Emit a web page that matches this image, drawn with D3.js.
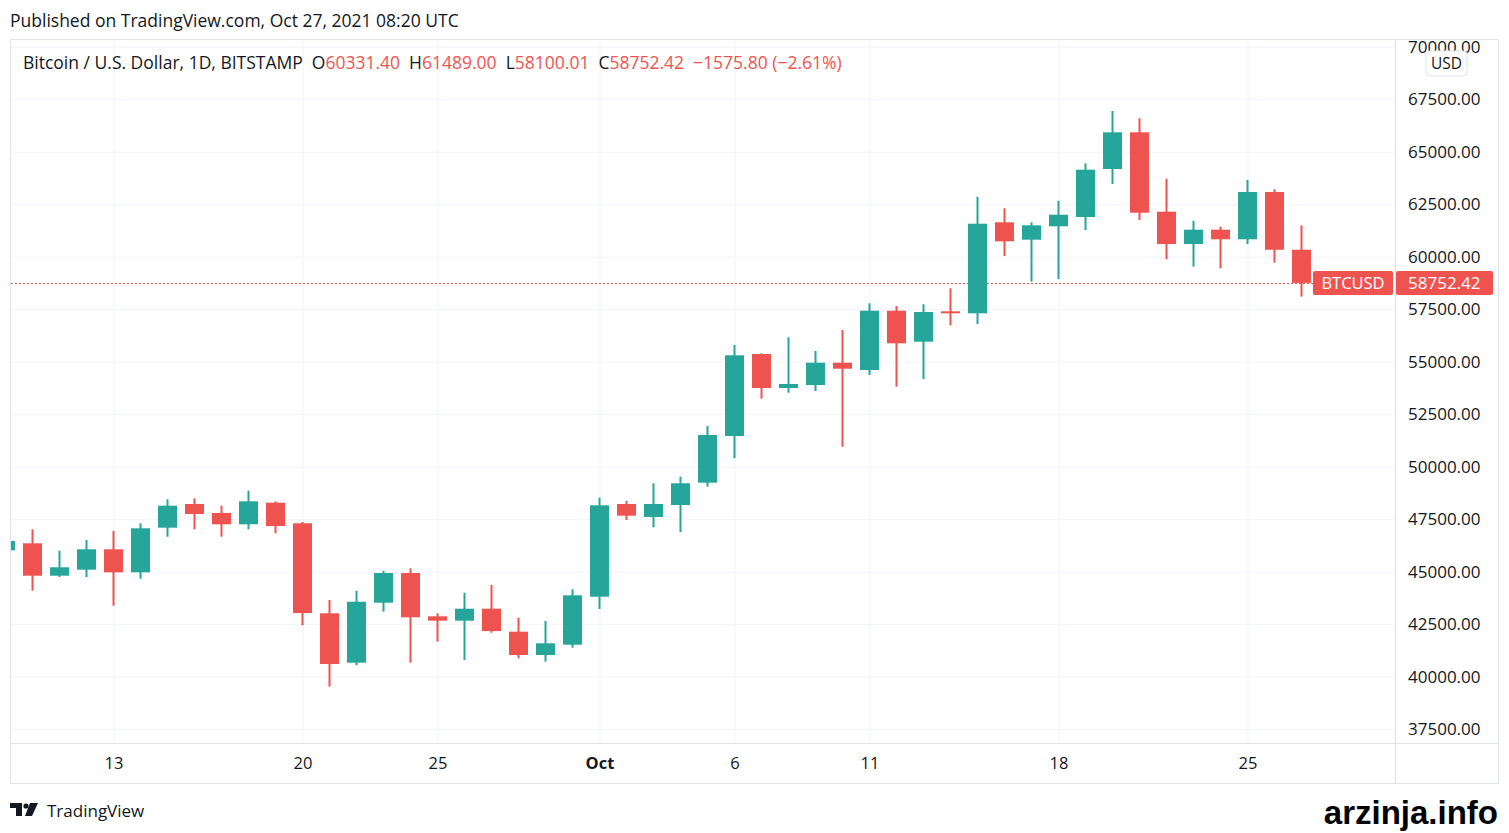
<!DOCTYPE html>
<html>
<head>
<meta charset="utf-8">
<script src="https://cdn.jsdelivr.net/npm/d3@7"></script>
<style>
  body { margin: 0; background: #fff; }
  svg { display: block; font-family: 'Open Sans', sans-serif; }
</style>
</head>
<body>
<div id="chart"></div>
<script>
// daily BTC/USD candles, Bitstamp
const days = [
  '2021-09-09', '2021-09-10', '2021-09-11', '2021-09-12', '2021-09-13', '2021-09-14',
  '2021-09-15', '2021-09-16', '2021-09-17', '2021-09-18', '2021-09-19', '2021-09-20',
  '2021-09-21', '2021-09-22', '2021-09-23', '2021-09-24', '2021-09-25', '2021-09-26',
  '2021-09-27', '2021-09-28', '2021-09-29', '2021-09-30', '2021-10-01', '2021-10-02',
  '2021-10-03', '2021-10-04', '2021-10-05', '2021-10-06', '2021-10-07', '2021-10-08',
  '2021-10-09', '2021-10-10', '2021-10-11', '2021-10-12', '2021-10-13', '2021-10-14',
  '2021-10-15', '2021-10-16', '2021-10-17', '2021-10-18', '2021-10-19', '2021-10-20',
  '2021-10-21', '2021-10-22', '2021-10-23', '2021-10-24', '2021-10-25', '2021-10-26',
  '2021-10-27'
];
const opens = [
  46019, 46352, 44810, 45095, 46067, 44971, 47095, 48224, 47795, 47257, 48286, 47305,
  43019, 40667, 43524, 44938, 42876, 42667, 43238, 42143, 41033, 41524, 43810, 48224,
  47605, 48176, 49238, 51462, 55367, 53748, 53890, 54952, 54605, 57429, 55952, 57400,
  57305, 61638, 60810, 61448, 61890, 64176, 65924, 62143, 60605, 61286, 60829, 63081,
  60331.40
];
const highs = [
  47000, 47019, 46000, 46510, 46938, 47305, 48448, 48495, 48143, 48857, 48352, 47367,
  43652, 44095, 45033, 45162, 43019, 44000, 44367, 42810, 42652, 44162, 48524, 48367,
  49210, 49524, 51938, 55795, 55400, 56162, 55510, 56510, 57781, 57652, 57733, 58495,
  62857, 62305, 61638, 62667, 64448, 66938, 66590, 63714, 61714, 61429, 63652, 63210,
  61489.00
];
const lows = [
  45800, 44095, 44748, 44748, 43381, 44667, 46667, 47019, 46667, 47019, 46829, 42448,
  39524, 40543, 43095, 40667, 41667, 40795, 42095, 40876, 40714, 41381, 43224, 47462,
  47114, 46890, 49048, 50400, 53238, 53524, 53605, 50952, 54367, 53810, 54176, 56733,
  56795, 60033, 58810, 58938, 61271, 63462, 61748, 59876, 59524, 59448, 60605, 59714,
  58100.01
];
const closes = [
  46462, 44810, 45210, 46067, 44971, 47067, 48143, 47748, 47257, 48352, 47176, 43033,
  40605, 43571, 44938, 42829, 42667, 43238, 42176, 41033, 41590, 43876, 48162, 47667,
  48224, 49210, 51510, 55305, 53748, 53938, 54952, 54667, 57429, 55876, 57367, 57340,
  61571, 60733, 61495, 62000, 64143, 65924, 62095, 60605, 61286, 60829, 63081, 60330,
  58752.42
];

const priceTicks = d3.range(37500, 70001, 2500);
const timeTicks = ['2021-09-13', '2021-09-20', '2021-09-25', '2021-10-01', '2021-10-06', '2021-10-11', '2021-10-18', '2021-10-25'];
const timeTickLabels = ['13', '20', '25', 'Oct', '6', '11', '18', '25'];
const legendParts = [
  ['O', '60331.40'],
  ['H', '61489.00'],
  ['L', '58100.01'],
  ['C', '58752.42']
];
const changeText = '\u22121575.80 (\u22122.61%)';
const lastPrice = 58752.42;

const drawCandles = () => {
  let width = 1509;
  let height = 833;
  let frame = { left: 10.5, top: 39.5, right: 1498.5, bottom: 783.5 };
  let plot = { left: 11, top: 40, right: 1395, bottom: 743 };
  let up = '#26a69a';
  let down = '#ef5350';
  let textColor = '#131722';
  let gridColor = '#f0f3fa';
  let borderColor = '#e0e3eb';

  let svg = d3
    .select('#chart')
    .append('svg')
    .attr('width', width)
    .attr('height', height);

  let parseDay = d3.utcParse('%Y-%m-%d');

  let datapoints = days.map((d, i) => ({
    date: parseDay(d),
    open: opens[i],
    high: highs[i],
    low: lows[i],
    close: closes[i]
  }));

  // Scales
  let xPositionScale = d3
    .scaleUtc()
    .domain([parseDay('2021-09-20'), parseDay('2021-10-25')])
    .range([302.5, 1247.5]);
  let yPositionScale = d3.scaleLinear().domain([40000, 70000]).range([676.7, 46.7]);
  let bodyWidth = 19;

  svg
    .append('text')
    .attr('x', 10)
    .attr('y', 27)
    .attr('font-size', '17.5px')
    .attr('fill', textColor)
    .text('Published on TradingView.com, Oct 27, 2021 08:20 UTC');

  svg
    .append('defs')
    .append('clipPath')
    .attr('id', 'plot-clip')
    .append('rect')
    .attr('x', plot.left)
    .attr('y', plot.top)
    .attr('width', plot.right - plot.left)
    .attr('height', plot.bottom - plot.top);

  let plotArea = svg.append('g').attr('clip-path', 'url(#plot-clip)');

  // Grid
  let xGrid = plotArea
    .append('g')
    .attr('transform', `translate(0, ${plot.bottom})`)
    .call(
      d3
        .axisBottom(xPositionScale)
        .tickValues(timeTicks.map(parseDay))
        .tickSize(-(plot.bottom - plot.top))
        .tickFormat('')
    );
  let yGrid = plotArea
    .append('g')
    .attr('transform', `translate(${plot.left}, 0)`)
    .call(
      d3
        .axisRight(yPositionScale)
        .tickValues(priceTicks)
        .tickSize(plot.right - plot.left)
        .tickFormat('')
    );
  [xGrid, yGrid].forEach((g) => {
    g.select('.domain').remove();
    g.selectAll('line').attr('stroke', gridColor).attr('stroke-width', 1);
  });

  // Last price line
  let lastY = yPositionScale(lastPrice);
  plotArea
    .append('line')
    .attr('x1', plot.left)
    .attr('x2', plot.right)
    .attr('y1', Math.round(lastY) + 0.5)
    .attr('y2', Math.round(lastY) + 0.5)
    .attr('stroke', down)
    .attr('stroke-width', 1)
    .attr('stroke-dasharray', '2,2');

  // Candles
  let candles = plotArea
    .selectAll('.candle')
    .data(datapoints)
    .enter()
    .append('g')
    .attr('class', 'candle')
    .attr('fill', (d) => (d.close >= d.open ? up : down));

  candles
    .append('rect')
    .attr('x', (d) => xPositionScale(d.date) - 1)
    .attr('width', 2)
    .attr('y', (d) => yPositionScale(d.high))
    .attr('height', (d) => yPositionScale(d.low) - yPositionScale(d.high));

  candles
    .append('rect')
    .attr('x', (d) => xPositionScale(d.date) - bodyWidth / 2)
    .attr('width', bodyWidth)
    .attr('y', (d) => yPositionScale(Math.max(d.open, d.close)))
    .attr('height', (d) =>
      Math.max(2, Math.abs(yPositionScale(d.open) - yPositionScale(d.close)))
    );

  // Frame
  svg
    .append('rect')
    .attr('x', frame.left)
    .attr('y', frame.top)
    .attr('width', frame.right - frame.left)
    .attr('height', frame.bottom - frame.top)
    .attr('fill', 'none')
    .attr('stroke', borderColor);
  svg
    .append('line')
    .attr('x1', plot.right + 0.5)
    .attr('x2', plot.right + 0.5)
    .attr('y1', frame.top)
    .attr('y2', frame.bottom)
    .attr('stroke', borderColor);
  svg
    .append('line')
    .attr('x1', frame.left)
    .attr('x2', frame.right)
    .attr('y1', plot.bottom + 0.5)
    .attr('y2', plot.bottom + 0.5)
    .attr('stroke', borderColor);

  // Axes
  svg
    .append('defs')
    .append('clipPath')
    .attr('id', 'axis-clip')
    .append('rect')
    .attr('x', plot.right)
    .attr('y', frame.top + 0.5)
    .attr('width', frame.right - plot.right)
    .attr('height', plot.bottom - frame.top);

  let yAxis = svg
    .append('g')
    .attr('clip-path', 'url(#axis-clip)')
    .append('g')
    .attr('transform', `translate(${plot.right + 13}, 0)`)
    .call(
      d3
        .axisRight(yPositionScale)
        .tickValues(priceTicks)
        .tickSize(0)
        .tickPadding(0)
        .tickFormat(d3.format('.2f'))
    );
  yAxis.select('.domain').remove();
  yAxis
    .selectAll('text')
    .attr('fill', textColor)
    .style('font-family', 'Open Sans')
    .style('font-size', '17px');

  let xAxis = svg
    .append('g')
    .attr('transform', `translate(0, ${plot.bottom})`)
    .call(
      d3
        .axisBottom(xPositionScale)
        .tickValues(timeTicks.map(parseDay))
        .tickSize(0)
        .tickPadding(14)
        .tickFormat((d, i) => timeTickLabels[i])
    );
  xAxis.select('.domain').remove();
  xAxis
    .selectAll('text')
    .attr('fill', textColor)
    .style('font-family', 'Open Sans')
    .style('font-size', '16.5px')
    .style('font-weight', (d, i) => (timeTickLabels[i] === 'Oct' ? 'bold' : 'normal'));

  // USD badge
  let badge = svg.append('g').attr('transform', 'translate(1426, 51)');
  badge
    .append('rect')
    .attr('width', 41)
    .attr('height', 25)
    .attr('rx', 4)
    .attr('fill', '#fff')
    .attr('stroke', borderColor);
  badge
    .append('text')
    .attr('x', 20.5)
    .attr('y', 12.5)
    .attr('dy', '0.35em')
    .attr('text-anchor', 'middle')
    .attr('font-size', '15.5px')
    .attr('fill', textColor)
    .text('USD');

  // Last price labels
  svg
    .append('rect')
    .attr('x', 1313)
    .attr('y', lastY - 12)
    .attr('width', 80)
    .attr('height', 24)
    .attr('rx', 2)
    .attr('fill', down);
  svg
    .append('text')
    .attr('x', 1353)
    .attr('y', lastY)
    .attr('dy', '0.35em')
    .attr('text-anchor', 'middle')
    .attr('font-size', '16.5px')
    .attr('fill', '#fff')
    .text('BTCUSD');
  svg
    .append('rect')
    .attr('x', plot.right + 1)
    .attr('y', lastY - 12)
    .attr('width', 97)
    .attr('height', 24)
    .attr('rx', 2)
    .attr('fill', down);
  svg
    .append('text')
    .attr('x', plot.right + 13)
    .attr('y', lastY)
    .attr('dy', '0.35em')
    .attr('font-size', '17px')
    .attr('fill', '#fff')
    .text(d3.format('.2f')(lastPrice));

  // Legend
  let legend = svg
    .append('text')
    .attr('x', 23)
    .attr('y', 63)
    .attr('dy', '0.35em')
    .attr('font-size', '17.5px')
    .attr('fill', textColor);
  legend.append('tspan').text('Bitcoin / U.S. Dollar, 1D, BITSTAMP');
  legendParts.forEach((part) => {
    legend.append('tspan').attr('dx', 9).text(part[0]);
    legend.append('tspan').attr('fill', down).text(part[1]);
  });
  legend.append('tspan').attr('dx', 9).attr('fill', down).text(changeText);

  // Footer
  let logo = svg.append('g').attr('transform', 'translate(10, 803)').attr('fill', textColor);
  logo.append('path').attr('d', 'M0,0 H12 V13 H6 V5 H0 Z');
  logo.append('circle').attr('cx', 16).attr('cy', 3).attr('r', 2.6);
  logo.append('path').attr('d', 'M20,0 H28 L22,13 H15 Z');
  svg
    .append('text')
    .attr('x', 47)
    .attr('y', 817)
    .attr('font-size', '17px')
    .attr('fill', textColor)
    .text('TradingView');

  svg
    .append('text')
    .attr('x', 1498)
    .attr('y', 824)
    .attr('text-anchor', 'end')
    .attr('font-family', 'Liberation Sans, Arial, sans-serif')
    .attr('font-weight', 'bold')
    .attr('font-size', '33px')
    .attr('fill', '#000')
    .text('arzinja.info');
};

drawCandles();
</script>
</body>
</html>
